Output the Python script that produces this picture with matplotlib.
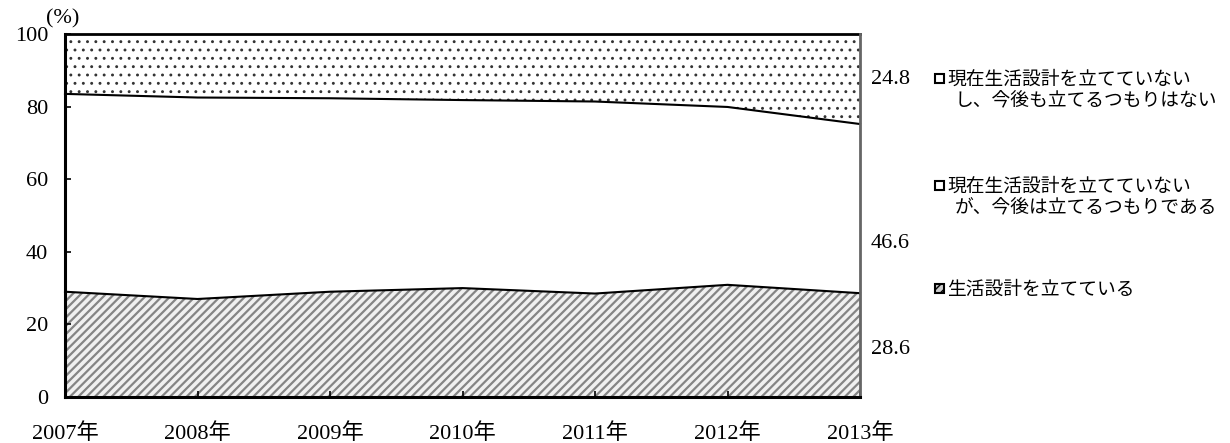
import matplotlib
matplotlib.use("Agg")
import matplotlib.pyplot as plt
from matplotlib.patches import Rectangle
import numpy as np

years = ['2007年', '2008年', '2009年', '2010年', '2011年', '2012年', '2013年']
planning = [29.0, 27.0, 29.0, 30.0, 28.5, 30.9, 28.6]
will_plan = [54.5, 55.5, 53.3, 51.8, 52.9, 49.0, 46.6]
no_plan = [16.5, 17.5, 17.7, 18.2, 18.6, 20.1, 24.8]
legend_labels = [['現在生活設計を立てていない', 'し、今後も立てるつもりはない'],
                 ['現在生活設計を立てていない', 'が、今後は立てるつもりである'],
                 ['生活設計を立てている']]
yticks = [0, 20, 40, 60, 80, 100]

FONT = ['Liberation Serif', 'Noto Sans CJK JP', 'DejaVu Sans']
plt.rcParams['font.family'] = FONT

fig = plt.figure(figsize=(12.3, 4.43), dpi=100)
ax = fig.add_axes([65/1230, 1-397/443, 795/1230, 363/443])

x = np.arange(len(years))
b1 = np.array(planning)
b2 = b1 + np.array(will_plan)
b3 = b2 + np.array(no_plan)

plt.rcParams['hatch.linewidth'] = 1.6
ax.fill_between(x, 0, b1, facecolor='#f0f0f0', edgecolor='#858585', hatch='////', linewidth=0)
ax.fill_between(x, b1, b2, facecolor='white', linewidth=0)
plt.rcParams['hatch.linewidth'] = 0.9
ax.fill_between(x, b2, b3, facecolor='white', edgecolor='#333333', hatch='..', linewidth=0)
ax.plot(x, b1, color='black', lw=1.5, clip_on=False)
ax.plot(x, b2, color='black', lw=1.5, clip_on=False)
ax.plot(x, b3, color='black', lw=2, clip_on=False)

ax.set_xlim(0, len(years)-1)
ax.set_ylim(0, 100)
ax.set_yticks(yticks)
ax.set_xticks(x)
ax.set_xticklabels(years)
ax.tick_params(axis='both', direction='in', length=4, width=1.2, labelsize=16)
ax.tick_params(axis='y', pad=12)
ax.tick_params(axis='x', pad=19)
for s in ['left', 'bottom']:
    ax.spines[s].set_linewidth(2.2)
ax.spines['top'].set_visible(False)
ax.spines['right'].set_color('#666666')
ax.spines['right'].set_linewidth(2)

fig.text(63/1230, 1-19/443, '(%)', fontsize=16, ha='center', va='center')

# value labels for last year
vals = [no_plan[-1], will_plan[-1], planning[-1]]
for yy, v in zip([79, 243, 350], vals):
    fig.text(890/1230, 1-yy/443, f'{v:.1f}', fontsize=16, ha='center', va='center')

# legend
plt.rcParams['hatch.linewidth'] = 1.0
items = [(79, 'white', None), (186, 'white', None), (289, '#cccccc', '////')]
for (yy, fc, h), lines in zip(items, legend_labels):
    sq = 9
    fig.patches.append(Rectangle((935/1230, 1-(yy+4)/443), sq/1230, sq/443,
                                 transform=fig.transFigure, facecolor=fc,
                                 edgecolor='black', lw=1.5, hatch=h))
    for i, ln in enumerate(lines):
        fig.text((947 if i == 0 else 955)/1230, 1-(yy + i*22)/443, ln,
                 fontsize=13.5, ha='left', va='center',
                 family=['Noto Sans CJK JP', 'DejaVu Sans'])

fig.savefig('out.png', dpi=100)
